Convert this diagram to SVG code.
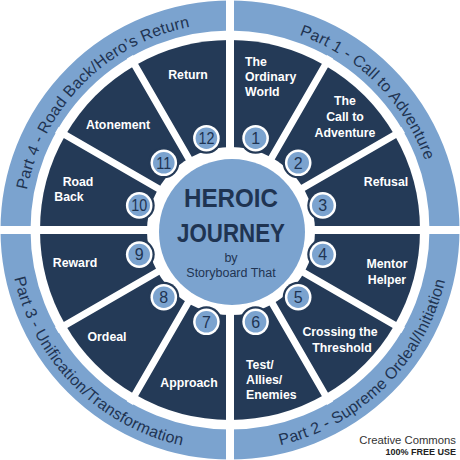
<svg xmlns="http://www.w3.org/2000/svg" width="460" height="460" viewBox="0 0 460 460">
<style>
.dark{fill:#243a57}
.light{fill:#7ba3cf}
.div{stroke:#fff;stroke-linecap:butt;fill:none}
.lbl{font-family:"Liberation Sans",Arial,sans-serif;font-weight:bold;font-size:12.3px;fill:#fff}
.mid{text-anchor:middle}
.part{font-family:"Liberation Sans",Arial,sans-serif;font-size:16px;fill:#1f3452;letter-spacing:0.2px}
.num{font-family:"Liberation Sans",Arial,sans-serif;font-size:16px;fill:#1f3452;text-anchor:middle}
.bd{fill:#243a57}
.bw{fill:#fff}
.bl{fill:#7ba3cf}
</style>
<defs>
<path id="arc4" d="M 71.43 363.06 A 207 207 0 0 1 363.06 71.43"/>
<path id="arc1" d="M 96.94 71.43 A 207 207 0 0 1 388.57 363.06"/>
<path id="arc2" d="M 87.94 399.29 A 221 221 0 0 0 399.29 87.94"/>
<path id="arc3" d="M 60.71 87.94 A 221 221 0 0 0 372.06 399.29"/>
</defs>
<rect width="460" height="460" fill="#fff"/>
<g id="ring">
<circle cx="230" cy="230" r="214.5" fill="none" stroke="#7ba3cf" stroke-width="30"/>
<text class="part"><textPath href="#arc4" startOffset="50%" text-anchor="middle">Part 4 - Road Back/Hero’s Return</textPath></text>
<text class="part"><textPath href="#arc1" startOffset="50%" text-anchor="middle">Part 1 - Call to Adventure</textPath></text>
<text class="part"><textPath href="#arc2" startOffset="50%" text-anchor="middle">Part 2 - Supreme Ordeal/Initiation</textPath></text>
<text class="part"><textPath href="#arc3" startOffset="50%" text-anchor="middle">Part 3 - Unification/Transformation</textPath></text>
</g>
<g id="sectors">
<path id="s1" class="dark" d="M230 230 L230 40 A190 190 0 0 1 325 65.455 Z"/>
<path id="s2" class="dark" d="M230 230 L325 65.455 A190 190 0 0 1 394.545 135 Z"/>
<path id="s3" class="dark" d="M230 230 L394.545 135 A190 190 0 0 1 420 230 Z"/>
<path id="s4" class="dark" d="M230 230 L420 230 A190 190 0 0 1 394.545 325 Z"/>
<path id="s5" class="dark" d="M230 230 L394.545 325 A190 190 0 0 1 325 394.545 Z"/>
<path id="s6" class="dark" d="M230 230 L325 394.545 A190 190 0 0 1 230 420 Z"/>
<path id="s7" class="dark" d="M230 230 L230 420 A190 190 0 0 1 135 394.545 Z"/>
<path id="s8" class="dark" d="M230 230 L135 394.545 A190 190 0 0 1 65.455 325 Z"/>
<path id="s9" class="dark" d="M230 230 L65.455 325 A190 190 0 0 1 40 230 Z"/>
<path id="s10" class="dark" d="M230 230 L40 230 A190 190 0 0 1 65.455 135 Z"/>
<path id="s11" class="dark" d="M230 230 L65.455 135 A190 190 0 0 1 135 65.455 Z"/>
<path id="s12" class="dark" d="M230 230 L135 65.455 A190 190 0 0 1 230 40 Z"/>
</g>
<g id="connectors">
<path class="div" stroke-width="7" d="M230 230 L330 56.8 M230 230 L403.2 130 M230 230 L403.2 330 M230 230 L330 403.2 M230 230 L130 403.2 M230 230 L56.8 330 M230 230 L56.8 130 M230 230 L130 56.8"/>
<path class="div" stroke-width="8" d="M230 -5 V465 M-5 230 H465"/>
</g>
<g id="center">
<circle cx="231" cy="231" r="84" fill="#fff"/>
<circle cx="232" cy="232" r="73" class="light"/>
<text x="231" y="207" text-anchor="middle" font-family="Liberation Sans, Arial, sans-serif" font-weight="bold" font-size="26" fill="#1f3452" textLength="94" lengthAdjust="spacingAndGlyphs">HEROIC</text>
<text x="231" y="242" text-anchor="middle" font-family="Liberation Sans, Arial, sans-serif" font-weight="bold" font-size="26" fill="#1f3452" textLength="108" lengthAdjust="spacingAndGlyphs">JOURNEY</text>
<text x="231" y="262" text-anchor="middle" font-family="Liberation Sans, Arial, sans-serif" font-size="12.5" fill="#1f3452">by</text>
<text x="231" y="277" text-anchor="middle" font-family="Liberation Sans, Arial, sans-serif" font-size="12.5" fill="#1f3452">Storyboard That</text>
</g>
<g id="node-1">
<text class="lbl" x="245" y="66">The</text>
<text class="lbl" x="245" y="81">Ordinary</text>
<text class="lbl" x="245" y="96">World</text>
<circle cx="255.6" cy="138.2" r="15.5" class="bd"/><circle cx="255.6" cy="138.2" r="13.3" class="bw"/><circle cx="255.6" cy="138.2" r="10.8" class="bl"/>
<text class="num" x="255.6" y="143.9">1</text>
</g>
<g id="node-2">
<text class="lbl mid" x="345" y="105">The</text>
<text class="lbl mid" x="345" y="121">Call to</text>
<text class="lbl mid" x="345" y="137">Adventure</text>
<circle cx="298.2" cy="162.8" r="15.5" class="bd"/><circle cx="298.2" cy="162.8" r="13.3" class="bw"/><circle cx="298.2" cy="162.8" r="10.8" class="bl"/>
<text class="num" x="298.2" y="168.5">2</text>
</g>
<g id="node-3">
<text class="lbl mid" x="386" y="186">Refusal</text>
<circle cx="322.8" cy="205.4" r="15.5" class="bd"/><circle cx="322.8" cy="205.4" r="13.3" class="bw"/><circle cx="322.8" cy="205.4" r="10.8" class="bl"/>
<text class="num" x="322.8" y="211.1">3</text>
</g>
<g id="node-4">
<text class="lbl mid" x="387" y="268">Mentor</text>
<text class="lbl mid" x="387" y="284">Helper</text>
<circle cx="322.8" cy="254.6" r="15.5" class="bd"/><circle cx="322.8" cy="254.6" r="13.3" class="bw"/><circle cx="322.8" cy="254.6" r="10.8" class="bl"/>
<text class="num" x="322.8" y="260.3">4</text>
</g>
<g id="node-5">
<text class="lbl mid" x="340" y="336">Crossing the</text>
<text class="lbl mid" x="342" y="352">Threshold</text>
<circle cx="298.2" cy="297.2" r="15.5" class="bd"/><circle cx="298.2" cy="297.2" r="13.3" class="bw"/><circle cx="298.2" cy="297.2" r="10.8" class="bl"/>
<text class="num" x="298.2" y="302.9">5</text>
</g>
<g id="node-6">
<text class="lbl" x="246" y="369">Test/</text>
<text class="lbl" x="246" y="384">Allies/</text>
<text class="lbl" x="246" y="399">Enemies</text>
<circle cx="255.6" cy="321.8" r="15.5" class="bd"/><circle cx="255.6" cy="321.8" r="13.3" class="bw"/><circle cx="255.6" cy="321.8" r="10.8" class="bl"/>
<text class="num" x="255.6" y="327.5">6</text>
</g>
<g id="node-7">
<text class="lbl mid" x="189" y="387">Approach</text>
<circle cx="206.4" cy="321.8" r="15.5" class="bd"/><circle cx="206.4" cy="321.8" r="13.3" class="bw"/><circle cx="206.4" cy="321.8" r="10.8" class="bl"/>
<text class="num" x="206.4" y="327.5">7</text>
</g>
<g id="node-8">
<text class="lbl mid" x="107" y="341">Ordeal</text>
<circle cx="163.8" cy="297.2" r="15.5" class="bd"/><circle cx="163.8" cy="297.2" r="13.3" class="bw"/><circle cx="163.8" cy="297.2" r="10.8" class="bl"/>
<text class="num" x="163.8" y="302.9">8</text>
</g>
<g id="node-9">
<text class="lbl mid" x="75" y="267">Reward</text>
<circle cx="139.2" cy="254.6" r="15.5" class="bd"/><circle cx="139.2" cy="254.6" r="13.3" class="bw"/><circle cx="139.2" cy="254.6" r="10.8" class="bl"/>
<text class="num" x="139.2" y="260.3">9</text>
</g>
<g id="node-10">
<text class="lbl mid" x="78" y="186">Road</text>
<text class="lbl mid" x="69" y="201">Back</text>
<circle cx="139.2" cy="205.4" r="15.5" class="bd"/><circle cx="139.2" cy="205.4" r="13.3" class="bw"/><circle cx="139.2" cy="205.4" r="10.8" class="bl"/>
<text class="num" x="139.2" y="211.1" textLength="16" lengthAdjust="spacingAndGlyphs">10</text>
</g>
<g id="node-11">
<text class="lbl mid" x="118" y="129">Atonement</text>
<circle cx="163.8" cy="162.8" r="15.5" class="bd"/><circle cx="163.8" cy="162.8" r="13.3" class="bw"/><circle cx="163.8" cy="162.8" r="10.8" class="bl"/>
<text class="num" x="163.8" y="168.5" textLength="15" lengthAdjust="spacingAndGlyphs">11</text>
</g>
<g id="node-12">
<text class="lbl mid" x="188" y="79">Return</text>
<circle cx="206.4" cy="138.2" r="15.5" class="bd"/><circle cx="206.4" cy="138.2" r="13.3" class="bw"/><circle cx="206.4" cy="138.2" r="10.8" class="bl"/>
<text class="num" x="206.4" y="143.9" textLength="16" lengthAdjust="spacingAndGlyphs">12</text>
</g>
<g id="credit">
<text x="456" y="444" text-anchor="end" font-family="Liberation Sans, Arial, sans-serif" font-size="11.3" fill="#333">Creative Commons</text>
<text x="456" y="455" text-anchor="end" font-family="Liberation Sans, Arial, sans-serif" font-weight="bold" font-size="9" fill="#222">100% FREE USE</text>
</g>
</svg>
